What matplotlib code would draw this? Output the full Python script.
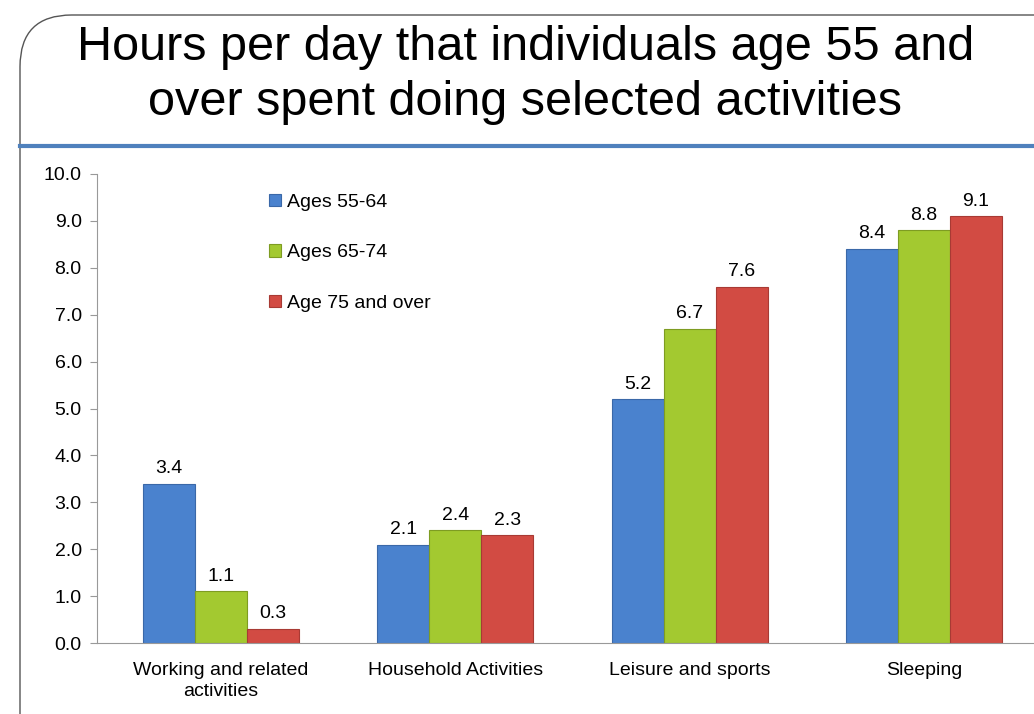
import matplotlib
matplotlib.use('Agg')
import matplotlib.pyplot as plt
import numpy as np
from matplotlib.patches import FancyBboxPatch
from matplotlib.lines import Line2D

categories = ['Working and related\nactivities', 'Household Activities',
              'Leisure and sports', 'Sleeping']
series_names = ['Ages 55-64', 'Ages 65-74', 'Age 75 and over']
ages_55_64 = [3.4, 2.1, 5.2, 8.4]
ages_65_74 = [1.1, 2.4, 6.7, 8.8]
ages_75_over = [0.3, 2.3, 7.6, 9.1]
yticks = [0, 1, 2, 3, 4, 5, 6, 7, 8, 9, 10]

colors = ['#4A82CE', '#A3C930', '#D24B43']
edges = ['#3A68A8', '#7E9C22', '#A83A34']
font = 'Liberation Sans'

fig = plt.figure(figsize=(10.34, 7.14), dpi=100)

# rounded slide frame
frame = FancyBboxPatch((20 / 1034, -0.1), 1.1, 1.1 - 15 / 714,
                       boxstyle='round,pad=0,rounding_size=0.05',
                       transform=fig.transFigure, facecolor='none',
                       edgecolor='#555555', linewidth=1.0, zorder=0,
                       mutation_aspect=1034 / 714)
fig.patches.append(frame)

# title
fig.text(0.508, 1 - 75 / 714, 'Hours per day that individuals age 55 and\nover spent doing selected activities',
         ha='center', va='center', fontsize=35, family=font,
         linespacing=1.31, color='black')

# blue separator line
fig.add_artist(Line2D([20 / 1034, 1.0], [1 - 146 / 714, 1 - 146 / 714],
                      transform=fig.transFigure, color='#4F81BD', linewidth=3))

ax = fig.add_axes([97 / 1034, 1 - 643 / 714, 1 - 97 / 1034, (643 - 174) / 714])
ax.patch.set_alpha(0)

x = np.arange(len(categories))
w = 0.222
data = [ages_55_64, ages_65_74, ages_75_over]
for i, vals in enumerate(data):
    pos = x + (i - 1) * w
    ax.bar(pos, vals, width=w, color=colors[i], edgecolor=edges[i],
           linewidth=0.8, label=series_names[i], zorder=2)
    for xp, v in zip(pos, vals):
        ax.text(xp, v + 0.14, f'{v:.1f}', ha='center', va='bottom',
                fontsize=14, family=font)

ax.set_xlim(-0.53, 3.47)
ax.set_ylim(0, 10)
ax.set_yticks(yticks)
ax.set_yticklabels([f'{t:.1f}' for t in yticks], fontsize=14, family=font)
ax.set_xticks(x)
ax.set_xticklabels(categories, fontsize=14, family=font, linespacing=1.25)
ax.tick_params(axis='x', length=0, pad=14)
ax.tick_params(axis='y', length=5, color='#999999', pad=6)
for s in ['top', 'right']:
    ax.spines[s].set_visible(False)
ax.spines['left'].set_color('#999999')
ax.spines['bottom'].set_color('#999999')

ax.legend(loc='upper left', bbox_to_anchor=(0.165, 0.995), frameon=False,
          prop={'family': font, 'size': 14},
          handlelength=0.6, handleheight=0.6, handletextpad=0.3,
          labelspacing=1.72)

fig.savefig('out.png', dpi=100)
